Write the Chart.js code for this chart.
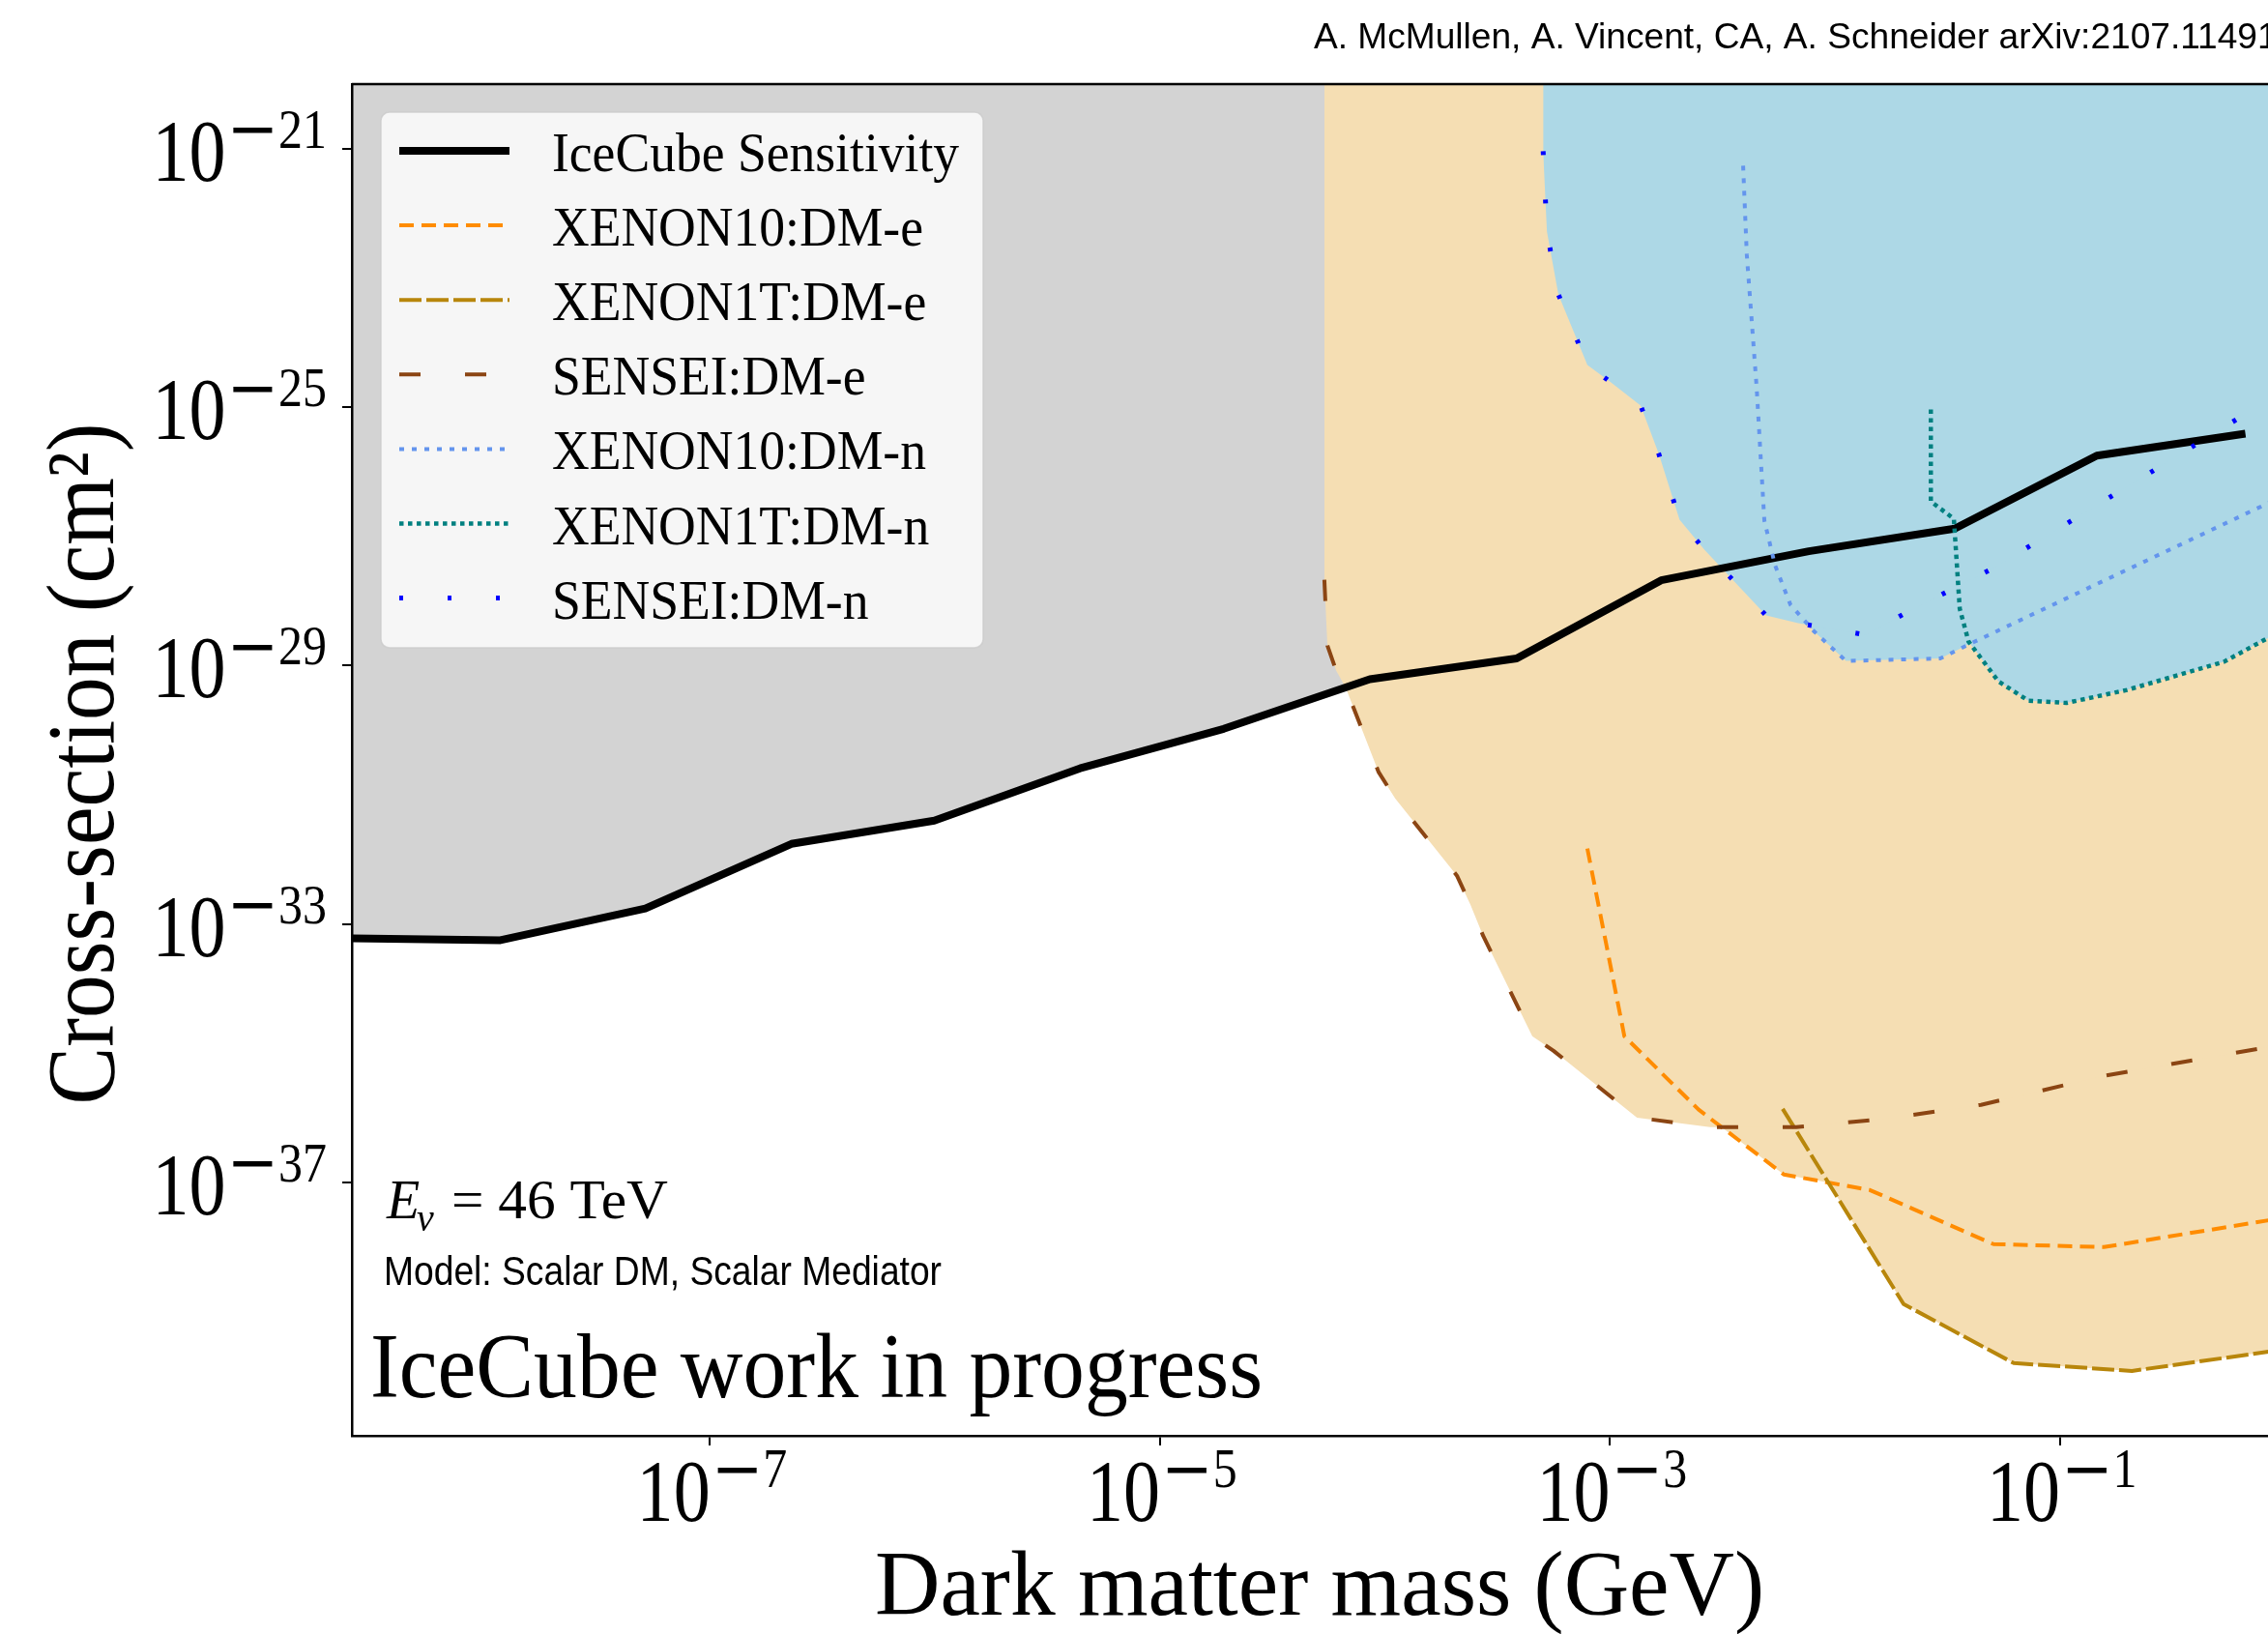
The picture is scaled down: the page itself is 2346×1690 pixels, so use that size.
<!DOCTYPE html>
<html>
<head>
<meta charset="utf-8">
<title>DM-neutrino scattering: IceCube sensitivity</title>
<script src="https://cdn.jsdelivr.net/npm/chart.js@4.4.1/dist/chart.umd.min.js"></script>
<style>
  html, body { margin: 0; padding: 0; overflow: hidden; background: #fff; }
  canvas { display: block; }
</style>
</head>
<body>
<canvas id="dm-chart" width="2420" height="1690"></canvas>
<script>
// values: dark matter mass (GeV) and cross-section (cm^2)
const iceCubeMass = [2.57e-9, 1.17e-8, 5.16e-8, 2.30e-7, 9.93e-7, 4.41e-6, 1.92e-5, 8.57e-5, 3.85e-4, 1.69e-3, 7.66e-3, 3.41e-2, 0.146, 0.668];
const iceCubeXsec = [6.03e-34, 5.62e-34, 1.74e-33, 1.74e-32, 3.98e-32, 2.57e-31, 1.05e-30, 6.17e-30, 1.29e-29, 2.09e-28, 5.89e-28, 1.32e-27, 1.78e-26, 3.89e-26];

const xenon10EMass = [7.94e-4, 1.16e-3, 2.48e-3, 5.93e-3, 1.43e-2, 5.07e-2, 0.157, 0.86];
const xenon10EXsec = [1.47e-32, 1.83e-35, 1.34e-36, 1.33e-37, 7.64e-38, 1.11e-38, 1.0e-38, 2.62e-38];

const xenon1TEMass = [5.86e-3, 2.02e-2, 6.24e-2, 0.209, 0.86];
const xenon1TEXsec = [1.38e-36, 1.31e-39, 1.60e-40, 1.21e-40, 2.42e-40];

const senseiEMass = [5.38e-5, 5.55e-5, 6.07e-5, 6.70e-5, 9.38e-5, 1.11e-4, 2.09e-4, 2.40e-4, 2.73e-4, 4.52e-4, 5.62e-4, 1.32e-3, 2.79e-3, 6.73e-3, 1.74e-2, 4.46e-2, 0.157, 0.86];
const senseiEXsec = [2.13e-28, 2.05e-29, 8.36e-30, 4.50e-30, 2.24e-31, 8.83e-32, 5.61e-33, 1.99e-33, 6.61e-34, 1.83e-35, 1.09e-35, 1.01e-36, 7.18e-37, 7.18e-37, 9.79e-37, 1.59e-36, 4.47e-36, 1.26e-35];

const xenon10NMass = [3.91e-3, 4.06e-3, 4.49e-3, 4.86e-3, 5.42e-3, 6.35e-3, 8.13e-3, 1.12e-2, 2.94e-2, 3.93e-2, 0.86];
const xenon10NXsec = [5.46e-22, 2.29e-23, 2.03e-25, 1.75e-27, 3.58e-28, 8.71e-29, 3.32e-29, 1.18e-29, 1.29e-29, 2.12e-29, 3.37e-27];

const xenon1TNMass = [2.67e-2, 2.67e-2, 3.38e-2, 3.59e-2, 3.93e-2, 5.33e-2, 7.24e-2, 0.107, 0.199, 0.535, 0.86];
const xenon1TNXsec = [9.20e-26, 3.48e-27, 1.87e-27, 7.59e-29, 2.35e-29, 5.71e-30, 2.87e-30, 2.64e-30, 4.20e-30, 1.14e-29, 2.79e-29];

const senseiNMass = [5.05e-4, 5.25e-4, 5.90e-4, 7.94e-4, 9.98e-4, 1.37e-3, 1.65e-3, 2.04e-3, 2.63e-3, 4.95e-3, 6.87e-3, 1.37e-2, 2.08e-2, 5.07e-2, 0.120, 0.284, 0.664];
const senseiNXsec = [9.14e-22, 5.24e-23, 5.57e-24, 4.50e-25, 2.50e-25, 1.06e-25, 1.88e-26, 1.81e-27, 6.21e-28, 5.96e-29, 4.53e-29, 2.99e-29, 6.61e-29, 3.23e-28, 2.00e-27, 1.25e-26, 7.74e-26];

// axis ranges and tick marks
const massRange = [2.56e-9, 1];
const xsecRange = [1.2e-41, 1e-20];
const massTicks = [1e-7, 1e-5, 1e-3, 1e-1];
const xsecTicks = [1e-37, 1e-33, 1e-29, 1e-25, 1e-21];

const SERIF = '"Liberation Serif", "Times New Roman", serif';
const SANS = '"Liberation Sans", Arial, sans-serif';

const pts = (xs, ys) => xs.map((x, i) => ({ x: x, y: ys[i] }));

// draw text, optionally squeezed/stretched to a given width
function put(ctx, str, x, y, font, opts) {
    opts = opts || {};
    ctx.save();
    ctx.font = font;
    ctx.fillStyle = '#000';
    ctx.textBaseline = 'alphabetic';
    ctx.textAlign = 'left';
    const natural = ctx.measureText(str).width;
    const sx = opts.width ? opts.width / natural : (opts.sx || 1);
    let left = x;
    if (opts.align === 'center') left = x - natural * sx / 2;
    if (opts.align === 'right') left = x - natural * sx;
    ctx.translate(left, y);
    ctx.scale(sx, 1);
    ctx.fillText(str, 0, 0);
    ctx.restore();
    return natural * sx;
}

function textWidth(ctx, str, font, sx) {
    ctx.save();
    ctx.font = font;
    const w = ctx.measureText(str).width * (sx || 1);
    ctx.restore();
    return w;
}

// 10^{-n} style label
function drawPow(ctx, value, x, baseY, supY, align) {
    const exp = Math.round(Math.log10(value));
    const digits = String(Math.abs(exp));
    const fBase = '90px ' + SERIF, fMinus = '64px "DejaVu Sans"', fDig = '58px ' + SERIF;
    const wBase = textWidth(ctx, '10', fBase, 0.845);
    const wMinus = exp < 0 ? textWidth(ctx, '\u2212', fMinus) : 0;
    const wDig = textWidth(ctx, digits, fDig, 0.86);
    const total = wBase + 1 + (exp < 0 ? wMinus : 0) + wDig;
    let left = align === 'right' ? x - total : x - total / 2;
    put(ctx, '10', left, baseY, fBase, { sx: 0.845 });
    left += wBase + 1;
    if (exp < 0) {
        put(ctx, '\u2212', left, supY + 2.5, fMinus);
        left += wMinus;
    }
    put(ctx, digits, left, supY, fDig, { sx: 0.86 });
}

const decorPlugin = {
    id: 'decor',
    afterDraw(chart) {
        const ctx = chart.ctx;
        const area = chart.chartArea;
        const xs = chart.scales.x, ys = chart.scales.y;

        // top and right frame
        ctx.save();
        ctx.strokeStyle = '#000';
        ctx.lineWidth = 2.5;
        ctx.beginPath();
        ctx.moveTo(area.left, area.top);
        ctx.lineTo(area.right, area.top);
        ctx.lineTo(area.right, area.bottom);
        ctx.stroke();
        ctx.restore();

        // tick labels
        xs.ticks.forEach(t => drawPow(ctx, t.value, xs.getPixelForValue(t.value) + 2, 1573, 1538, 'center'));
        ys.ticks.forEach(t => {
            const py = ys.getPixelForValue(t.value);
            drawPow(ctx, t.value, 338, py + 33, py - 1, 'right');
        });

        // axis titles
        put(ctx, 'Dark matter mass (GeV)', 1365, 1670, '96px ' + SERIF, { width: 920, align: 'center' });
        ctx.save();
        ctx.translate(117, 790);
        ctx.rotate(-Math.PI / 2);
        put(ctx, 'Cross-section (cm\u00B2)', 0, 0, '100px ' + SERIF, { width: 705, align: 'center' });
        ctx.restore();

        // legend
        ctx.save();
        ctx.beginPath();
        const bx = 394, by = 116, bw = 623, bh = 554, r = 9;
        ctx.moveTo(bx + r, by);
        ctx.arcTo(bx + bw, by, bx + bw, by + bh, r);
        ctx.arcTo(bx + bw, by + bh, bx, by + bh, r);
        ctx.arcTo(bx, by + bh, bx, by, r);
        ctx.arcTo(bx, by, bx + bw, by, r);
        ctx.closePath();
        ctx.fillStyle = 'rgba(255,255,255,0.8)';
        ctx.fill();
        ctx.strokeStyle = 'rgba(204,204,204,0.8)';
        ctx.lineWidth = 1.5;
        ctx.stroke();
        ctx.restore();

        chart.data.datasets.forEach((ds, i) => {
            const cy = 156 + i * 77.1;
            ctx.save();
            ctx.strokeStyle = ds.borderColor;
            ctx.lineWidth = ds.borderWidth;
            ctx.setLineDash(ds.borderDash || []);
            ctx.lineCap = 'butt';
            ctx.beginPath();
            ctx.moveTo(413, cy);
            ctx.lineTo(527, cy);
            ctx.stroke();
            ctx.restore();
            put(ctx, ds.label, 571, cy + 21, '57px ' + SERIF, { sx: 0.94 });
        });

        // annotations
        put(ctx, 'E', 400, 1260, 'italic 56px ' + SERIF);
        put(ctx, '\u03BD', 431, 1273, 'italic 40px ' + SERIF);
        put(ctx, '= 46 TeV', 467, 1260, '56px ' + SERIF, { width: 224 });
        put(ctx, 'Model: Scalar DM, Scalar Mediator', 397, 1329, '42px ' + SANS, { width: 577 });
        put(ctx, 'IceCube work in progress', 383, 1445, '95px ' + SERIF, { width: 923 });

        // credit line, cut off by the right edge like the original
        const credit = 'A. McMullen, A. Vincent, CA, A. Schneider arXiv:2107.11491';
        const sxCredit = 976 / textWidth(ctx, 'A. McMullen, A. Vincent, CA, A. Schneider arXiv:2107.1149', '37px ' + SANS);
        put(ctx, credit, 1359, 50, '37px ' + SANS, { sx: sxCredit });
    }
};

const lineBase = { pointRadius: 0, tension: 0, borderCapStyle: 'butt', borderJoinStyle: 'round' };

new Chart(document.getElementById('dm-chart').getContext('2d'), {
    type: 'line',
    data: {
        datasets: [
            Object.assign({ label: 'IceCube Sensitivity', data: pts(iceCubeMass, iceCubeXsec),
                borderColor: '#000000', borderWidth: 8, fill: 'end', backgroundColor: '#d3d3d3', order: 7 }, lineBase),
            Object.assign({ label: 'XENON10:DM-e', data: pts(xenon10EMass, xenon10EXsec),
                borderColor: '#ff8c00', borderWidth: 4, borderDash: [15, 8], fill: 'end', backgroundColor: '#f5deb3', order: 6 }, lineBase),
            Object.assign({ label: 'XENON1T:DM-e', data: pts(xenon1TEMass, xenon1TEXsec),
                borderColor: '#b8860b', borderWidth: 4, borderDash: [23, 5], fill: 'end', backgroundColor: '#f5deb3', order: 5 }, lineBase),
            Object.assign({ label: 'SENSEI:DM-e', data: pts(senseiEMass, senseiEXsec),
                borderColor: '#8b4513', borderWidth: 4, borderDash: [22, 46], fill: 'end', backgroundColor: '#f5deb3', order: 4 }, lineBase),
            Object.assign({ label: 'XENON10:DM-n', data: pts(xenon10NMass, xenon10NXsec),
                borderColor: '#6495ed', borderWidth: 4, borderDash: [5, 8], fill: 'end', backgroundColor: '#add8e6', order: 3 }, lineBase),
            Object.assign({ label: 'XENON1T:DM-n', data: pts(xenon1TNMass, xenon1TNXsec),
                borderColor: '#008080', borderWidth: 4.5, borderDash: [4.5, 4.5], fill: 'end', backgroundColor: '#add8e6', order: 2 }, lineBase),
            Object.assign({ label: 'SENSEI:DM-n', data: pts(senseiNMass, senseiNXsec),
                borderColor: '#0000ff', borderWidth: 5, borderDash: [4, 46], fill: 'end', backgroundColor: '#add8e6', order: 1 }, lineBase)
        ]
    },
    options: {
        responsive: false,
        devicePixelRatio: 1,
        animation: false,
        events: [],
        layout: { padding: { top: 87, right: 56.6, bottom: 0, left: 0 } },
        plugins: {
            legend: { display: false },
            tooltip: { enabled: false },
            filler: { drawTime: 'beforeDatasetsDraw' }
        },
        scales: {
            x: {
                type: 'logarithmic',
                min: massRange[0],
                max: massRange[1],
                afterBuildTicks: (scale) => { scale.ticks = massTicks.map(v => ({ value: v })); },
                afterFit: (scale) => { scale.height = 205; },
                ticks: { display: false },
                grid: { drawOnChartArea: false, drawTicks: true, tickLength: 10, color: '#000', lineWidth: 2 },
                border: { display: true, color: '#000', width: 2.5, z: 1 }
            },
            y: {
                type: 'logarithmic',
                min: xsecRange[0],
                max: xsecRange[1],
                afterBuildTicks: (scale) => { scale.ticks = xsecTicks.map(v => ({ value: v })); },
                afterFit: (scale) => { scale.width = 364; },
                ticks: { display: false },
                grid: { drawOnChartArea: false, drawTicks: true, tickLength: 10, color: '#000', lineWidth: 2 },
                border: { display: true, color: '#000', width: 2.5, z: 1 }
            }
        }
    },
    plugins: [decorPlugin]
});
</script>
</body>
</html>
